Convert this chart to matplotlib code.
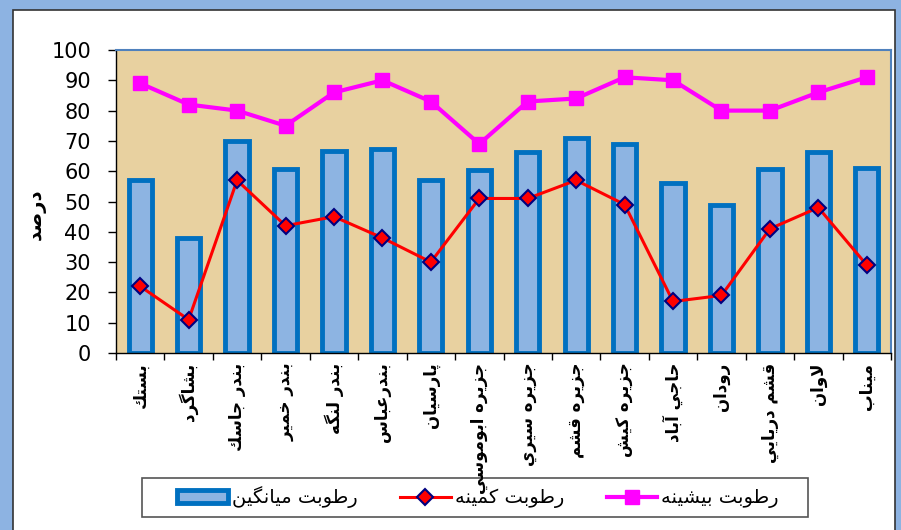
import numpy as np
import matplotlib
matplotlib.use("Agg")
import matplotlib.pyplot as plt
from matplotlib.patches import Rectangle

# station names (logical order, Persian)
stations = ["بستك", "بشاگرد", "بندر جاسك", "بندر خمير", "بندر لنگه", "بندرعباس",
            "پارسيان", "جزيره ابوموسي", "جزيره سيري", "جزيره قشم", "جزيره كيش",
            "حاجي آباد", "رودان", "قشم دريايي", "لاوان", "ميناب"]
hum_avg = [57, 38, 70, 60.7, 66.7, 67.3, 57, 60.4, 66.2, 71, 69.1, 56, 48.8, 60.7, 66.3, 60.9]
hum_min = [22, 11, 57, 42, 45, 38, 30, 51, 51, 57, 49, 17, 19, 41, 48, 29]
hum_max = [89, 82, 80, 75, 86, 90, 83, 69, 83, 84, 91, 90, 80, 80, 86, 91]
yticks = list(range(0, 101, 10))
legend_labels = ["رطوبت ميانگين", "رطوبت كمينه", "رطوبت بيشينه"]
ylabel = "درصد"

# matplotlib does no arabic shaping, so pick presentation forms by hand
FORMS = {
    'ا': ('\uFE8D', '\uFE8E', None, None), 'آ': ('\uFE81', '\uFE82', None, None),
    'ب': ('\uFE8F', '\uFE90', '\uFE91', '\uFE92'), 'ت': ('\uFE95', '\uFE96', '\uFE97', '\uFE98'),
    'ج': ('\uFE9D', '\uFE9E', '\uFE9F', '\uFEA0'), 'ح': ('\uFEA1', '\uFEA2', '\uFEA3', '\uFEA4'),
    'خ': ('\uFEA5', '\uFEA6', '\uFEA7', '\uFEA8'), 'د': ('\uFEA9', '\uFEAA', None, None),
    'ر': ('\uFEAD', '\uFEAE', None, None), 'ز': ('\uFEAF', '\uFEB0', None, None),
    'س': ('\uFEB1', '\uFEB2', '\uFEB3', '\uFEB4'), 'ش': ('\uFEB5', '\uFEB6', '\uFEB7', '\uFEB8'),
    'ص': ('\uFEB9', '\uFEBA', '\uFEBB', '\uFEBC'), 'ط': ('\uFEC1', '\uFEC2', '\uFEC3', '\uFEC4'),
    'ع': ('\uFEC9', '\uFECA', '\uFECB', '\uFECC'), 'ق': ('\uFED5', '\uFED6', '\uFED7', '\uFED8'),
    'ك': ('\uFED9', '\uFEDA', '\uFEDB', '\uFEDC'), 'ل': ('\uFEDD', '\uFEDE', '\uFEDF', '\uFEE0'),
    'م': ('\uFEE1', '\uFEE2', '\uFEE3', '\uFEE4'), 'ن': ('\uFEE5', '\uFEE6', '\uFEE7', '\uFEE8'),
    'ه': ('\uFEE9', '\uFEEA', '\uFEEB', '\uFEEC'), 'و': ('\uFEED', '\uFEEE', None, None),
    'ي': ('\uFEF1', '\uFEF2', '\uFEF3', '\uFEF4'), 'پ': ('\uFB56', '\uFB57', '\uFB58', '\uFB59'),
    'گ': ('\uFB92', '\uFB93', '\uFB94', '\uFB95'),
}


def shape(text):
    out = []
    i = 0
    n = len(text)
    while i < n:
        c = text[i]
        if c not in FORMS:
            out.append(c)
            i += 1
            continue
        prev = text[i - 1] if i > 0 else None
        join_prev = prev in FORMS and FORMS[prev][2] is not None
        nxt = text[i + 1] if i + 1 < n else None
        if c == 'ل' and nxt in ('ا', 'آ'):
            lig = ('\uFEFB', '\uFEFC') if nxt == 'ا' else ('\uFEF5', '\uFEF6')
            out.append(lig[1] if join_prev else lig[0])
            i += 2
            continue
        join_next = nxt in FORMS and FORMS[c][2] is not None
        iso, fin, ini, med = FORMS[c]
        if join_prev and join_next:
            out.append(med)
        elif join_prev:
            out.append(fin)
        elif join_next:
            out.append(ini)
        else:
            out.append(iso)
        i += 1
    return ''.join(reversed(out))


plt.rcParams['font.family'] = ['DejaVu Sans']

W, H = 901, 530
fig = plt.figure(figsize=(W / 100, H / 100), dpi=100)
fig.patch.set_facecolor('#8DB3E2')
fig.patches.append(Rectangle((13 / W, -0.1), (895 - 13) / W, (H - 10) / H + 0.1,
                             transform=fig.transFigure, facecolor='white',
                             edgecolor='#333333', linewidth=1.2, zorder=-5))
# legend frame (drawn separately, excel pads it wider than matplotlib does)
fig.patches.append(Rectangle((142 / W, 1 - 517 / H), (808 - 142) / W, 39 / H,
                             transform=fig.transFigure, facecolor='white',
                             edgecolor='#555555', linewidth=1.2, zorder=-4))

ax = fig.add_axes([116 / W, (H - 353) / H, (891 - 116) / W, (353 - 50) / H])
ax.set_facecolor('#E8D1A0')

x = np.arange(len(stations))
bars = ax.bar(x, hum_avg, width=0.48, color='#8DB4E2', edgecolor='#0070C0', linewidth=3.5,
              zorder=2)
l_min, = ax.plot(x, hum_min, color='red', lw=2.2, marker='D', markersize=8.5,
                 markerfacecolor='red', markeredgecolor='#000080', markeredgewidth=1.5,
                 zorder=3)
l_max, = ax.plot(x, hum_max, color='#FF00FF', lw=3, marker='s', markersize=9.5,
                 markerfacecolor='#FF00FF', markeredgecolor='#FF00FF', zorder=3)

ax.set_xlim(-0.5, len(stations) - 0.5)
ax.set_ylim(0, 100)
ax.set_yticks(yticks)
ax.tick_params(axis='y', labelsize=15, length=6, width=1, direction='out', pad=12)

ax.set_xticks(x)
ax.set_xticklabels([shape(s) for s in stations], rotation=90, va='top', ha='center',
                   fontsize=12, fontweight='bold')
ax.tick_params(axis='x', which='major', length=0, pad=7)
ax.set_xticks(np.arange(-0.5, len(stations), 1), minor=True)
ax.tick_params(axis='x', which='minor', length=5, width=1, direction='out')

for s in ['top', 'right']:
    ax.spines[s].set_color('#4F81BD')
    ax.spines[s].set_linewidth(1.5)
for s in ['left', 'bottom']:
    ax.spines[s].set_color('black')
    ax.spines[s].set_linewidth(1)

fig.text(36 / W, 1 - 214 / H, shape(ylabel), rotation=90, ha='center', va='center',
         fontsize=14, fontweight='bold')

leg = fig.legend([bars, l_min, l_max], [shape(s) for s in legend_labels],
                 loc='center', bbox_to_anchor=(478 / W, 1 - 497.5 / H), ncol=3,
                 fontsize=14, frameon=False,
                 handlelength=2.6, handletextpad=0.2, columnspacing=2.2,
                 borderpad=0.4, borderaxespad=0)

fig.savefig('out.png', dpi=100, facecolor=fig.get_facecolor())
